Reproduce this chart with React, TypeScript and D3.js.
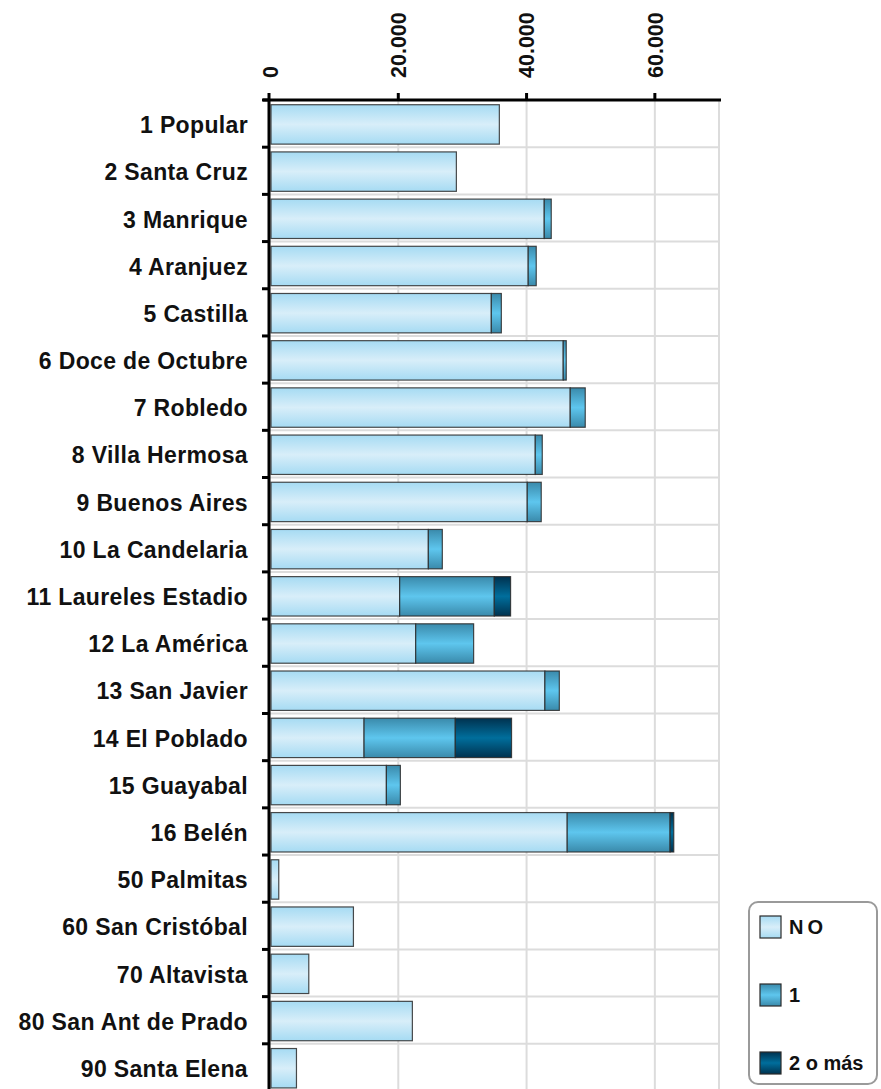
import React from "react";
import * as d3 from "d3";

const categories = [
  "1 Popular", "2 Santa Cruz", "3 Manrique", "4 Aranjuez", "5 Castilla",
  "6 Doce de Octubre", "7 Robledo", "8 Villa Hermosa", "9 Buenos Aires",
  "10 La Candelaria", "11 Laureles Estadio", "12 La América", "13 San Javier",
  "14 El Poblado", "15 Guayabal", "16 Belén", "50 Palmitas", "60 San Cristóbal",
  "70 Altavista", "80 San Ant de Prado", "90 Santa Elena",
];
const seriesNames = ["NO", "1", "2 o más"];
const valuesNo = [35600, 28900, 42600, 40100, 34350, 45560, 46650, 41200, 39950, 24530, 20060, 22560, 42700, 14510, 17990, 46180, 1210, 12850, 5890, 22040, 3970];
const valuesOne = [0, 0, 1090, 1250, 1560, 470, 2340, 1090, 2180, 2180, 14750, 9030, 2250, 14220, 2180, 16040, 0, 0, 0, 0, 0];
const valuesTwo = [0, 0, 0, 0, 0, 0, 0, 0, 0, 0, 2540, 0, 0, 8770, 0, 570, 0, 0, 0, 0, 0];
const xTicks = [0, 20000, 40000, 60000];
const xMax = 70000;

const gradIds = ["gNo", "gOne", "gTwo"];
const gradStops = [
  ["#a6dbf3", "#d8eef9", "#a6dbf3"],
  ["#3a8aab", "#5ec6ee", "#3a8aab"],
  ["#00324f", "#006e9c", "#00324f"],
];

export default function App() {
  const W = 881, H = 1100;
  const x0 = 270, x1 = 719;
  const y0 = 100, y1 = 1091;
  const x = d3.scaleLinear().domain([0, xMax]).range([x0, x1]);
  const y = d3.scaleBand<string>().domain(categories).range([y0, y1]).padding(0);
  const step = y.step();
  const barOff = step * 0.1;
  const barH = step * 0.835;
  const fmt = (v: number) => d3.format(",")(v).replace(/,/g, ".");
  const series = [valuesNo, valuesOne, valuesTwo];
  const font = "'Liberation Sans', Arial, sans-serif";

  const boundaries = d3.range(categories.length + 1).map((i) => y0 + i * step);

  return (
    <svg width={W} height={H} style={{ position: "absolute", left: 0, top: 0, background: "#fff" }}>
      <defs>
        {gradIds.map((id, i) => (
          <linearGradient key={id} id={id} x1="0" y1="0" x2="0" y2="1">
            <stop offset="0%" stopColor={gradStops[i][0]} />
            <stop offset="50%" stopColor={gradStops[i][1]} />
            <stop offset="100%" stopColor={gradStops[i][2]} />
          </linearGradient>
        ))}
      </defs>
      {/* vertical gridlines */}
      {xTicks.slice(1).concat([xMax]).map((t) => (
        <line key={"vg" + t} x1={x(t)} x2={x(t)} y1={y0} y2={H} stroke="#dcdcdc" strokeWidth={2} />
      ))}
      {/* horizontal gridlines */}
      {boundaries.slice(1).map((b, i) => (
        <line key={"hg" + i} x1={x0} x2={x1} y1={b} y2={b} stroke="#dcdcdc" strokeWidth={2} />
      ))}
      {/* bars */}
      {categories.map((c, i) => {
        let acc = 0;
        return (
          <g key={c}>
            {series.map((s, si) => {
              const v = s[i];
              const start = acc;
              acc += v;
              if (v <= 0) return null;
              return (
                <rect
                  key={si}
                  x={x(start) + 1}
                  y={y(c)! + barOff}
                  width={Math.max(0, x(start + v) - x(start))}
                  height={barH}
                  fill={`url(#${gradIds[si]})`}
                  stroke="#2a2a2a"
                  strokeOpacity={0.85}
                  strokeWidth={1.2}
                />
              );
            })}
          </g>
        );
      })}
      {/* category labels */}
      {categories.map((c) => (
        <text
          key={"l" + c}
          x={248}
          y={y(c)! + barOff + barH / 2}
          dy="0.38em"
          textAnchor="end"
          fontFamily={font}
          fontWeight="bold"
          fontSize={23}
          letterSpacing={0.35}
          fill="#111"
        >
          {c}
        </text>
      ))}
      {/* left ticks */}
      {boundaries.map((b, i) => (
        <line key={"lt" + i} x1={262} x2={x0} y1={b} y2={b} stroke="#000" strokeWidth={3} />
      ))}
      {/* left axis */}
      <line x1={x0 - 1} x2={x0 - 1} y1={y0 - 1} y2={H} stroke="#000" strokeWidth={3} />
      {/* top axis */}
      <line x1={263} x2={x1 + 2} y1={y0} y2={y0} stroke="#000" strokeWidth={3} />
      {xTicks.map((t) => (
        <g key={"xt" + t}>
          <line x1={x(t) - (t === 0 ? 1 : 0)} x2={x(t) - (t === 0 ? 1 : 0)} y1={y0 - 7} y2={y0} stroke="#000" strokeWidth={3} />
          <text
            transform={`translate(${x(t)},${78}) rotate(-90)`}
            dy="0.36em"
            textAnchor="start"
            fontFamily={font}
            fontWeight="bold"
            fontSize={21.5}
            fill="#111"
          >
            {fmt(t)}
          </text>
        </g>
      ))}
      {/* legend */}
      <g>
        <rect x={749} y={902} width={128} height={182} rx={9} ry={9} fill="#fff" stroke="#9a9a9a" strokeWidth={2} />
        {seriesNames.map((n, i) => {
          const ly = 916 + i * 68;
          return (
            <g key={n}>
              <rect x={760} y={ly} width={21} height={22} fill={`url(#${gradIds[i]})`} stroke="#2a2a2a" strokeWidth={1.2} />
              <text
                x={789}
                y={ly + 11}
                dy="0.36em"
                fontFamily={font}
                fontWeight="bold"
                fontSize={20}
                letterSpacing={i === 0 ? 4 : 0}
                fill="#111"
              >
                {n}
              </text>
            </g>
          );
        })}
      </g>
    </svg>
  );
}
